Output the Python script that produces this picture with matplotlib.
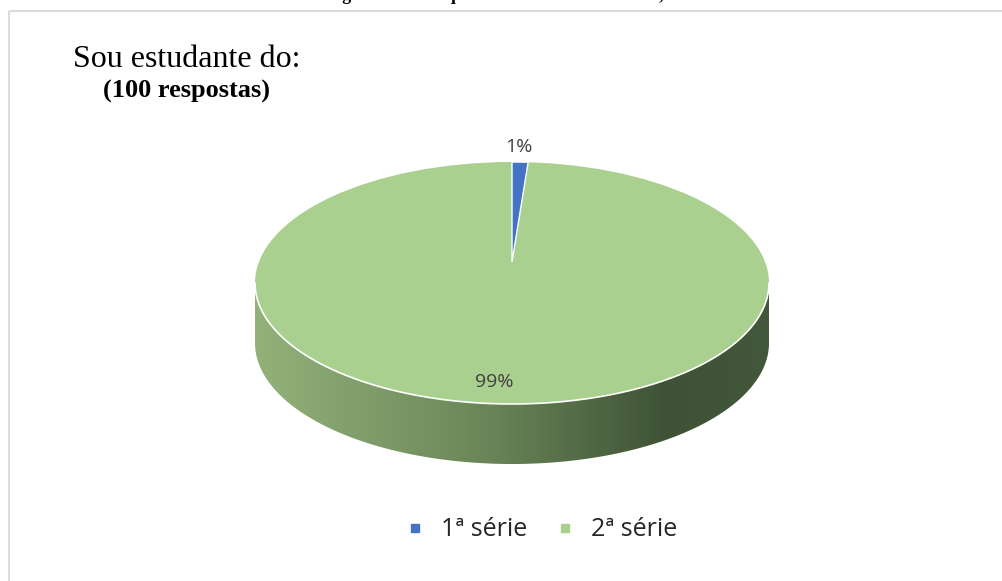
import numpy as np
import matplotlib.pyplot as plt
from matplotlib.patches import Ellipse, Polygon, Rectangle
from matplotlib.lines import Line2D
from matplotlib.colors import LinearSegmentedColormap

# data
categories = ['1ª série', '2ª série']
shares = [1, 99]
colors = ['#4472C4', '#A9D08E']
title = 'Sou estudante do:'
subtitle = '(100 respostas)'
caption = 'Figura 6: Série que os estudantes cursavam, em 2019'

W, H = 1003, 581
fig = plt.figure(figsize=(W / 100, H / 100), dpi=100)
ax = fig.add_axes([0, 0, 1, 1])
ax.set_xlim(0, W)
ax.set_ylim(H, 0)
ax.axis('off')

# chart frame
ax.add_patch(Rectangle((9, 11), W, H, fill=False, ec='#dcdcdc', lw=1.5))

# caption, only its lower edge shows at the top of the picture
ax.text(529, 0.5, caption, ha='center', va='baseline', fontsize=13,
        family='Liberation Serif', fontweight='bold', color='black')

ax.text(73, 67, title, ha='left', va='baseline', fontsize=23,
        family='Liberation Serif', color='black')
ax.text(103, 98, subtitle, ha='left', va='baseline', fontsize=19,
        family='Liberation Serif', fontweight='bold', color='black')

# 3d pie geometry
cx, cy = 512, 283
a, b = 257, 121
depth = 60
apex_y = cy - 21

# side of the pie (front half only), with a gradient
t = np.linspace(0, np.pi, 200)
top_rim = np.column_stack([cx + a * np.cos(t), cy + b * np.sin(t)])
bot_rim = top_rim[::-1] + [0, depth]
side = Polygon(np.vstack([top_rim, bot_rim]), closed=True, fc='none', ec='none')
ax.add_patch(side)
grad_cmap = LinearSegmentedColormap.from_list(
    'side', [(0, '#93b27a'), (0.45, '#6a8658'), (0.8, '#3f5236'), (1, '#43573a')])
img = ax.imshow(np.linspace(0, 1, 256)[None, :], cmap=grad_cmap, aspect='auto',
                extent=[cx - a, cx + a, cy + depth + b + 2, cy - 2], zorder=1)
img.set_clip_path(side)

# top face
ax.add_patch(Ellipse((cx, cy), 2 * a, 2 * b, fc=colors[1], ec='none', zorder=2))
ax.plot(top_rim[:, 0], top_rim[:, 1], color='white', lw=1.2, zorder=3)

# wedges, starting at 12 o'clock going clockwise
start = -np.pi / 2
total = sum(shares)
for share, col in zip(shares, colors):
    end = start + 2 * np.pi * share / total
    if share / total < 0.5:
        th = np.linspace(start, end, 30)
        pts = np.column_stack([cx + a * np.cos(th), cy + b * np.sin(th)])
        pts = np.vstack([[cx, apex_y], pts])
        ax.add_patch(Polygon(pts, closed=True, fc=col, ec='white', lw=1, zorder=4))
    start = end

# data labels
label_pos = [(519, 152), (494, 387)]
for share, (x, y) in zip(shares, label_pos):
    ax.text(x, y, f'{share}%', ha='center', va='baseline', fontsize=14,
            family='Open Sans', color='#404040', zorder=5)

# legend
handles = [Line2D([], [], marker='s', ls='none', ms=6, color=c) for c in colors]
leg = fig.legend(handles, categories, loc='center', bbox_to_anchor=(540 / W, 1 - 530 / H),
                 ncol=2, frameon=False, handlelength=1.0, handletextpad=0.55,
                 columnspacing=1.0, prop={'family': 'Open Sans', 'size': 18})
for txt in leg.get_texts():
    txt.set_color('#262626')

fig.savefig('out.png', dpi=100)
